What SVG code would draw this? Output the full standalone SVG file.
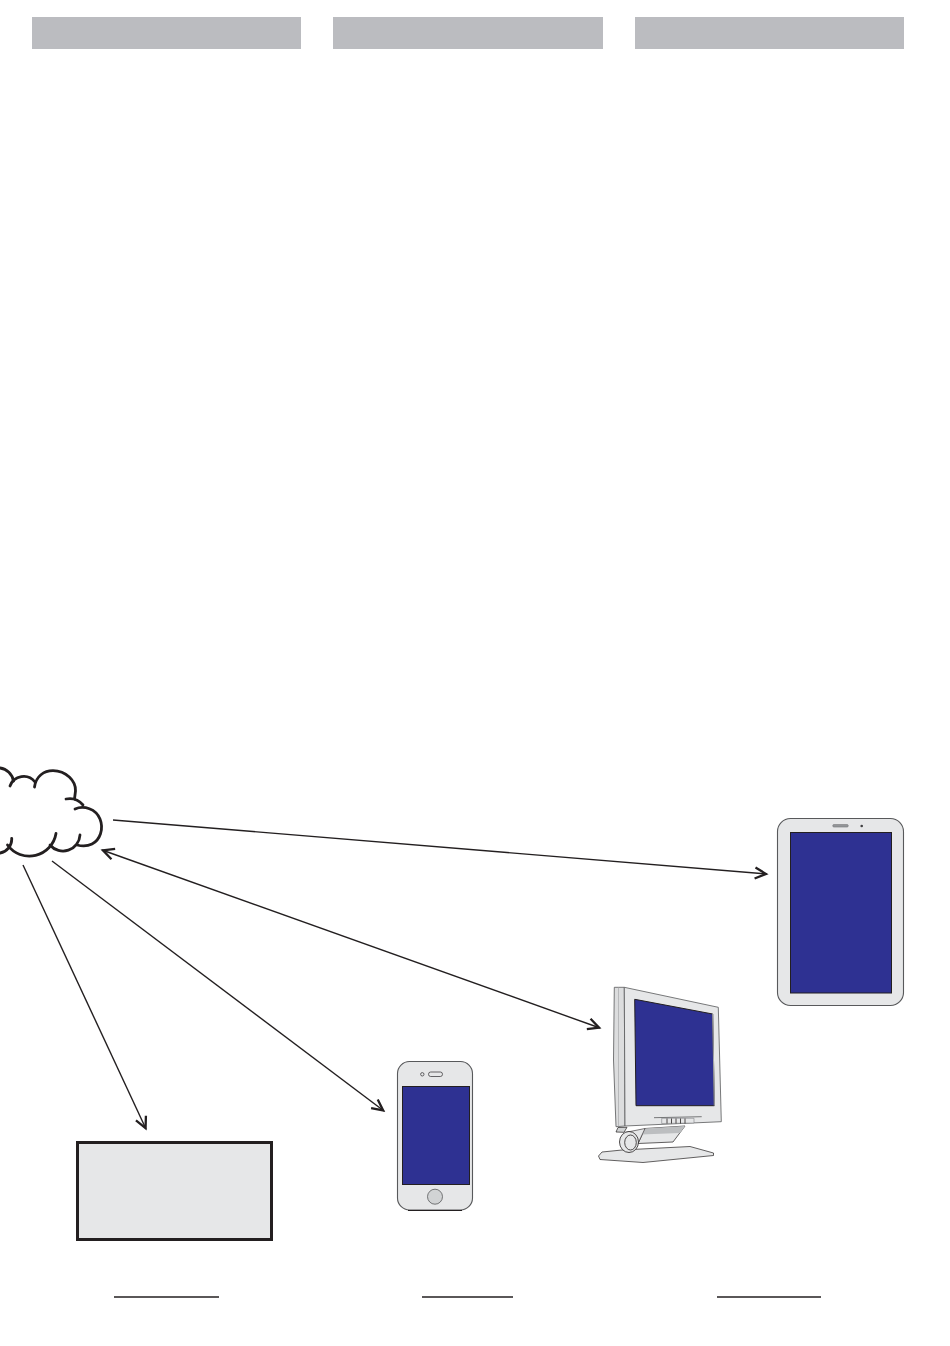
<svg xmlns="http://www.w3.org/2000/svg" width="950" height="1346" viewBox="0 0 950 1346">
<style>
.hdr{fill:#bbbcc0}
.ln{stroke:#231f20;stroke-width:1.4;fill:none}
.ul{stroke:#231f20;stroke-width:1.3;fill:none}
.scr{fill:#2e3192;stroke:#231f20;stroke-width:1}
.bd{fill:#e6e7e8;stroke:#58595b;stroke-width:1.1}
.thin{stroke:#231f20;stroke-width:.7;fill:#e6e7e8}
</style>
<defs>
<marker id="ah" viewBox="-13 -8 16 16" markerWidth="16" markerHeight="16" refX="1" refY="0" orient="auto-start-reverse" markerUnits="userSpaceOnUse">
<path d="M-11,-5.500 L0,0 L-11,5.500" fill="none" stroke="#231f20" stroke-width="2.300"/>
</marker>
</defs>
<g id="headers">
<rect class="hdr" x="32" y="17" width="269" height="32"/>
<rect class="hdr" x="333" y="17" width="270" height="32"/>
<rect class="hdr" x="635" y="17" width="269" height="32"/>
</g>
<g id="connectors">
<line class="ln" x1="113" y1="820" x2="767" y2="874" marker-end="url(#ah)"/>
<line class="ln" x1="102" y1="850" x2="600" y2="1028" marker-start="url(#ah)" marker-end="url(#ah)"/>
<line class="ln" x1="52" y1="861" x2="384" y2="1111" marker-end="url(#ah)"/>
<line class="ln" x1="23" y1="865" x2="146" y2="1129" marker-end="url(#ah)"/>
</g>
<g id="cloud" fill="none" stroke="#231f20" stroke-width="2.800" stroke-linecap="round">
<path d="M0,768 A16,16 0 0 1 13.500,781"/>
<path d="M10,786 A14.500,14.500 0 0 1 35,782"/>
<path d="M34.500,787 C36,776 44,770.700 53,770.700 C66,770.700 76,781 75.500,791 L74.500,799"/>
<path d="M66,799 C71,798 78,799 83,805"/>
<path d="M75,809 C84,805 96,809 100,819 C104,829 100,840 92,844 C87,846.500 81,846 77,845"/>
<path d="M80,835 A17,17 0 0 1 50,845"/>
<path d="M56,833.500 A27,27 0 0 1 7.500,845"/>
<path d="M11.700,838.300 A14,14 0 0 1 0,853"/>
</g>
<g id="server">
<rect x="77.500" y="1142.500" width="194" height="97" fill="#e6e7e8" stroke="#231f20" stroke-width="3"/>
</g>
<g id="phone">
<rect class="bd" x="397.500" y="1061.500" width="75" height="148.500" rx="12"/>
<path d="M408,1210.500 H462" stroke="#231f20" stroke-width="1.200" fill="none"/>
<rect class="scr" x="402.500" y="1086.500" width="67" height="98"/>
<circle cx="435" cy="1196.700" r="7.500" fill="#d1d3d4" stroke="#58595b" stroke-width=".8"/>
<rect x="428.500" y="1072" width="14" height="4.500" rx="2.200" fill="#e6e7e8" stroke="#414042" stroke-width=".8"/>
<circle cx="422.300" cy="1074.300" r="1.700" fill="#e6e7e8" stroke="#414042" stroke-width=".8"/>
</g>
<g id="monitor">
<path class="thin" d="M598.500,1156 L602,1152 L622,1150 L690,1146.500 L713.500,1153 L713.500,1155.500 L643,1162.500 L600,1159.500 Z"/>
<path d="M645,1128.500 L685,1126 L673,1142 L638,1143.500 Z" fill="#e6e7e8" stroke="#231f20" stroke-width=".7"/>
<path d="M645,1128.500 L685,1126 L680,1133 L641,1134.500 Z" fill="#bcbec0"/>
<path d="M625,1132.500 L645,1128.500 L638,1143.500 Z" fill="#e6e7e8" stroke="#231f20" stroke-width=".6"/>
<ellipse cx="629" cy="1142" rx="9.500" ry="10.500" fill="#e6e7e8" stroke="#231f20" stroke-width=".8"/>
<ellipse cx="630.500" cy="1142.500" rx="5.800" ry="7.500" fill="#e6e7e8" stroke="#231f20" stroke-width=".8"/>
<path d="M616,1132 L618,1127.500 L627,1127.300 L624,1132.300 Z" fill="#d1d3d4" stroke="#231f20" stroke-width=".7"/>
<path d="M614.300,987.300 L624.300,987.300 L625,1126 L616,1126.700 L613.500,1060 Z" fill="#dcddde" stroke="#58595b" stroke-width=".8"/>
<path d="M618.500,987.500 V1126.500" stroke="#a7a9ac" stroke-width=".7" fill="none"/>
<path d="M624.300,987.300 L718.300,1007.300 L721.300,1121.700 L625,1126 Z" fill="#e6e7e8" stroke="#58595b" stroke-width=".8"/>
<path class="scr" d="M634.700,999.300 L712.700,1014 L714.300,1105.700 L636,1105.700 Z"/>
<path d="M712.700,1014 L714.300,1105.700" stroke="#a7a9ac" stroke-width="1" fill="none"/>
<path d="M654,1117.700 L701.700,1116.700" stroke="#58595b" stroke-width=".8" fill="none"/>
<path d="M661.700,1118.300 H694 V1123 L661.700,1123.500 Z" fill="#e6e7e8" stroke="#808285" stroke-width=".6"/>
<path d="M667,1118.500 V1123.500 M671.500,1118.500 V1123.500 M676,1118.500 V1123.500 M680.500,1118.500 V1123.500 M685,1118.500 V1123.500" stroke="#231f20" stroke-width=".8" fill="none"/>
</g>
<g id="tablet">
<rect class="bd" x="777.500" y="818.500" width="126" height="187" rx="13"/>
<rect class="scr" x="790.500" y="832.500" width="101" height="160.500"/>
<rect x="832.700" y="824.500" width="15.600" height="2.600" rx="1.300" fill="#939598" stroke="#6d6e71" stroke-width=".5"/>
<circle cx="861.700" cy="826" r="1.300" fill="#414042"/>
</g>
<g id="underlines">
<line class="ul" x1="114" y1="1297" x2="219" y2="1297"/>
<line class="ul" x1="422" y1="1297" x2="513" y2="1297"/>
<line class="ul" x1="717" y1="1297" x2="821" y2="1297"/>
</g>
</svg>
